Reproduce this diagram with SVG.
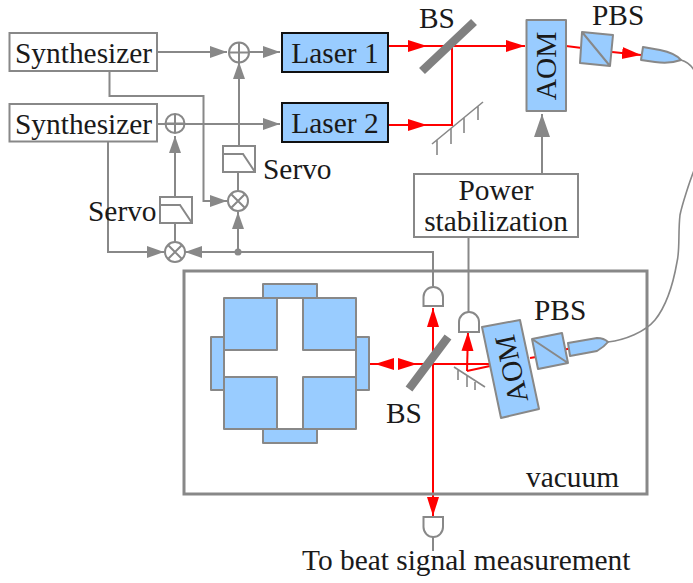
<svg xmlns="http://www.w3.org/2000/svg" width="693" height="583" viewBox="0 0 693 583">
<style>
text{font-family:"Liberation Serif","Times New Roman",serif;font-size:29.400px;fill:#1a1a1a}
.m{text-anchor:middle}
.g{fill:none;stroke:#888;stroke-width:2}
.t{fill:none;stroke:#888;stroke-width:1.6}
.r{fill:none;stroke:#f00;stroke-width:2}
.bx{fill:#fff;stroke:#888;stroke-width:2}
.bl{fill:#9cf;stroke:#888;stroke-width:2;stroke-linejoin:round}
.las{fill:#9cf;stroke:#111;stroke-width:2}
.ga{marker-end:url(#ag)}
.ra{marker-end:url(#ar)}
</style>
<defs>
<marker id="ag" markerUnits="userSpaceOnUse" markerWidth="18" markerHeight="14" refX="17" refY="7" orient="auto"><path d="M0,1 L17,7 L0,13 Z" fill="#888"/></marker>
<marker id="agb" markerUnits="userSpaceOnUse" markerWidth="24" markerHeight="18" refX="23" refY="9" orient="auto"><path d="M0,1 L23,9 L0,17 Z" fill="#888"/></marker>
<marker id="ar" markerUnits="userSpaceOnUse" markerWidth="20" markerHeight="14" refX="19" refY="7" orient="auto"><path d="M0,1 L19,7 L0,13 Z" fill="#f00"/></marker>
</defs>
<g id="connectors">
<path class="g ga" d="M157,52 H227"/>
<path class="g ga" d="M249,52 H280"/>
<path class="g ga" d="M157,124 H280"/>
<path class="g ga" d="M239,146 V62"/>
<path class="g" d="M238,172 V191"/>
<path class="g ga" d="M238,252 V212"/>
<path class="g ga" d="M175,197 V136"/>
<path class="g" d="M175,223 V242"/>
<path class="g ga" d="M108,142 V252 H164"/>
<path class="g ga" d="M109.500,72 V96 H203.500 V201 H227"/>
<path class="g ga" d="M433,286 V252 H185"/>
<circle cx="238" cy="252" r="3.500" fill="#888"/>
<path class="g" d="M542,174 V135"/>
<path d="M542,136 V114" class="g" style="marker-end:url(#agb)"/>
<path class="g" d="M468.500,237 V312"/>
<path class="g" d="M433,537 V551"/>
<path class="t" d="M681,60 C688,62 693,68 695,72"/>
<path class="t" d="M695,168 C690,180 682,205 680,215 C678,232 680,250 677,262 C673,285 667,305 655,320 C645,332 625,340 608,342"/>
<path class="r ra" d="M385,46 H427"/>
<path class="r" d="M427,46 H452"/>
<path class="r ra" d="M385,125 H427"/>
<path class="r" d="M427,125 H452 V46"/>
<path class="r ra" d="M452,46 H525"/>
<path class="r" d="M566,46 L582,48"/>
<path class="r ra" d="M612,52 L641,55"/>
<path class="r ra" d="M433,364 V308"/>
<path class="r ra" d="M433,364 V516"/>
<path class="r ra" d="M394,364 H375"/>
<path class="r" d="M375,364 H370"/>
<path class="r ra" d="M398,364 H417"/>
<path class="r" d="M417,364 H490"/>
<path class="r" d="M490,366 L467,371"/>
<path class="r ra" d="M467,371 L468,332"/>
<path class="r" d="M530,358 L536,357 M562,350 L570,348.500"/>
</g>
<g id="synth1"><rect class="bx" x="9.500" y="33" width="147.500" height="38"/><text x="15" y="63">Synthesizer</text></g>
<g id="synth2"><rect class="bx" x="9.500" y="104" width="147.500" height="37.500"/><text x="15" y="134">Synthesizer</text></g>
<g id="laser1"><rect class="las" x="282" y="33" width="106" height="39"/><text x="335" y="63" class="m">Laser 1</text></g>
<g id="laser2"><rect class="las" x="282" y="103" width="106" height="39"/><text x="335" y="133" class="m">Laser 2</text></g>
<g id="sum1"><circle cx="239" cy="52.500" r="10" fill="#fff" class="g"/><path class="g" d="M229,52.500 H249 M239,42.500 V62.500"/></g>
<g id="sum2"><circle cx="175" cy="123.500" r="9.500" fill="none" class="g"/><path class="g" d="M165.500,123.500 H184.500 M175,114 V133"/></g>
<g id="mix1"><circle cx="238" cy="201" r="10" class="bx"/><path class="g" d="M231,194 L245,208 M245,194 L231,208"/></g>
<g id="mix2"><circle cx="175" cy="252" r="10" class="bx"/><path class="g" d="M168,245 L182,259 M182,245 L168,259"/></g>
<g id="servo1"><rect class="bx" x="223" y="146" width="32" height="26"/><path class="g" d="M223,154 H243 L255,172"/><text x="263" y="179">Servo</text></g>
<g id="servo2"><rect class="bx" x="160" y="197" width="32" height="26"/><path class="g" d="M160,205 H180 L192,223"/><text x="88" y="221">Servo</text></g>
<g id="bs1"><path d="M422,71 L474,22" fill="none" stroke="#808080" stroke-width="8.500"/><text x="419" y="28">BS</text></g>
<g id="mirror1"><path class="g" d="M432,144 L483,102 M437,140 V155 M451,128 V144 M464,118 V133 M478,106 V120" style="stroke-width:1.600"/></g>
<g id="aom1"><rect class="bl" x="526.500" y="20" width="39.500" height="91"/><text class="m" transform="translate(556,66) rotate(-90)">AOM</text></g>
<g id="pbs1"><path class="bl" d="M582,32 L613,35 L610,66 L580,63 Z M582,32 L610,66"/><text x="592" y="25">PBS</text></g>
<g id="coll1"><path class="bl" d="M643,47 L660,50 Q675,53 681,60 Q670,64 655,62 L641,60 Z"/></g>
<g id="power"><rect class="bx" x="414" y="174" width="164" height="63"/><text class="m" x="496" y="200">Power</text><text class="m" x="496" y="231">stabilization</text></g>
<g id="vacuum"><rect x="184" y="271" width="463" height="223" fill="none" stroke="#888" stroke-width="3"/><text x="526" y="487">vacuum</text></g>
<g id="cavity">
<rect class="bl" x="263" y="284" width="54" height="14"/><rect class="bl" x="263" y="429" width="54" height="14"/>
<rect class="bl" x="211" y="337" width="13" height="53"/><rect class="bl" x="356" y="337" width="13" height="53"/>
<rect class="bl" x="224" y="298" width="53" height="52"/><rect class="bl" x="303" y="298" width="53" height="52"/>
<rect class="bl" x="224" y="377" width="53" height="52"/><rect class="bl" x="303" y="377" width="53" height="52"/>
</g>
<g id="det1"><path class="g" d="M423.500,306 V297 A9.700,10 0 0 1 443,297 V306 Z" fill="#fff"/></g>
<g id="det2"><path class="g" d="M459,332 V322 A10,10 0 0 1 479,322 V332 Z"/></g>
<g id="det3"><path class="g" d="M423.500,517 H443 V527 A9.700,10 0 0 1 423.500,527 Z"/></g>
<g id="bs2"><path d="M409,389 L448,337" fill="none" stroke="#808080" stroke-width="8.500"/><text x="386" y="423">BS</text></g>
<g id="mirror2"><path class="t" d="M454,367 L485,387 M458,370 V380 M467,376 V387 M475,382 V390"/></g>
<g id="aom2"><path class="bl" d="M482,327 L520,320 L539,409 L501,418 Z"/><text class="m" transform="translate(521,367) rotate(-102)">AOM</text></g>
<g id="pbs2"><path class="bl" d="M532,339 L562,333 L568,363 L538,369 Z M532,339 L568,363"/><text x="534" y="320">PBS</text></g>
<g id="coll2"><path class="bl" d="M568,343 L597,338 Q604,338 608,342 Q604,347 597,351 L570,356 Z"/></g>
<text x="302" y="570">To beat signal measurement</text>
</svg>
